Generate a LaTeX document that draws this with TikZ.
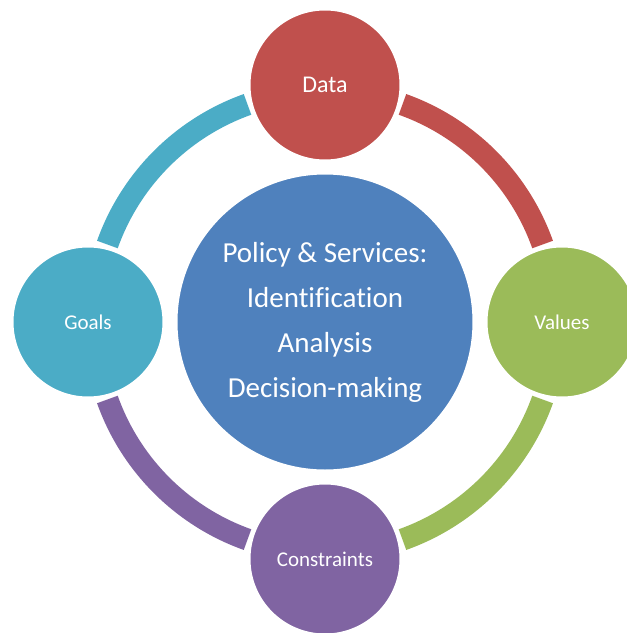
\documentclass[tikz,border=0pt]{standalone}
\usepackage{fontspec}
\setmainfont{Carlito}[RawFeature=-liga]
\usetikzlibrary{calc}

\definecolor{dataRed}{HTML}{C0504D}
\definecolor{valuesGreen}{HTML}{9BBB59}
\definecolor{constrPurple}{HTML}{8064A2}
\definecolor{goalsTeal}{HTML}{4BACC6}
\definecolor{policyBlue}{HTML}{4F81BD}

\tikzset{
  ring/.style={line width=22pt, line cap=butt},
  bubble/.style={circle, draw=white, line width=2pt, minimum size=151pt, inner sep=0pt,
    text=white, font=\fontsize{21}{25}\selectfont},
}

\begin{document}
\begin{tikzpicture}[x=1pt,y=1pt]
\useasboundingbox (-325,-311) rectangle (302,322);

% cycle arcs
\draw[ring, dataRed] (70.4:231) arc (70.4:19.6:231);
\draw[ring, valuesGreen] (-19.6:231) arc (-19.6:-70.4:231);
\draw[ring, constrPurple] (-109.6:231) arc (-109.6:-160.4:231);
\draw[ring, goalsTeal] (160.4:231) arc (160.4:109.6:231);

% hub
\node[circle, fill=policyBlue, draw=white, line width=2pt, minimum size=297pt, inner sep=0pt,
  text=white, align=center, font=\fontsize{29}{45}\selectfont] (hub) at (0,0)
  {Policy \& Services:\\Identification\\Analysis\\Decision-making};

% satellites
\node[bubble, fill=dataRed, font=\fontsize{24}{28}\selectfont] (data) at (0,237) {Data};
\node[bubble, fill=valuesGreen] (values) at (237,0) {Values};
\node[bubble, fill=constrPurple] (constr) at (0,-237) {Constraints};
\node[bubble, fill=goalsTeal] (goals) at (-237,0) {Goals};

\end{tikzpicture}
\end{document}
